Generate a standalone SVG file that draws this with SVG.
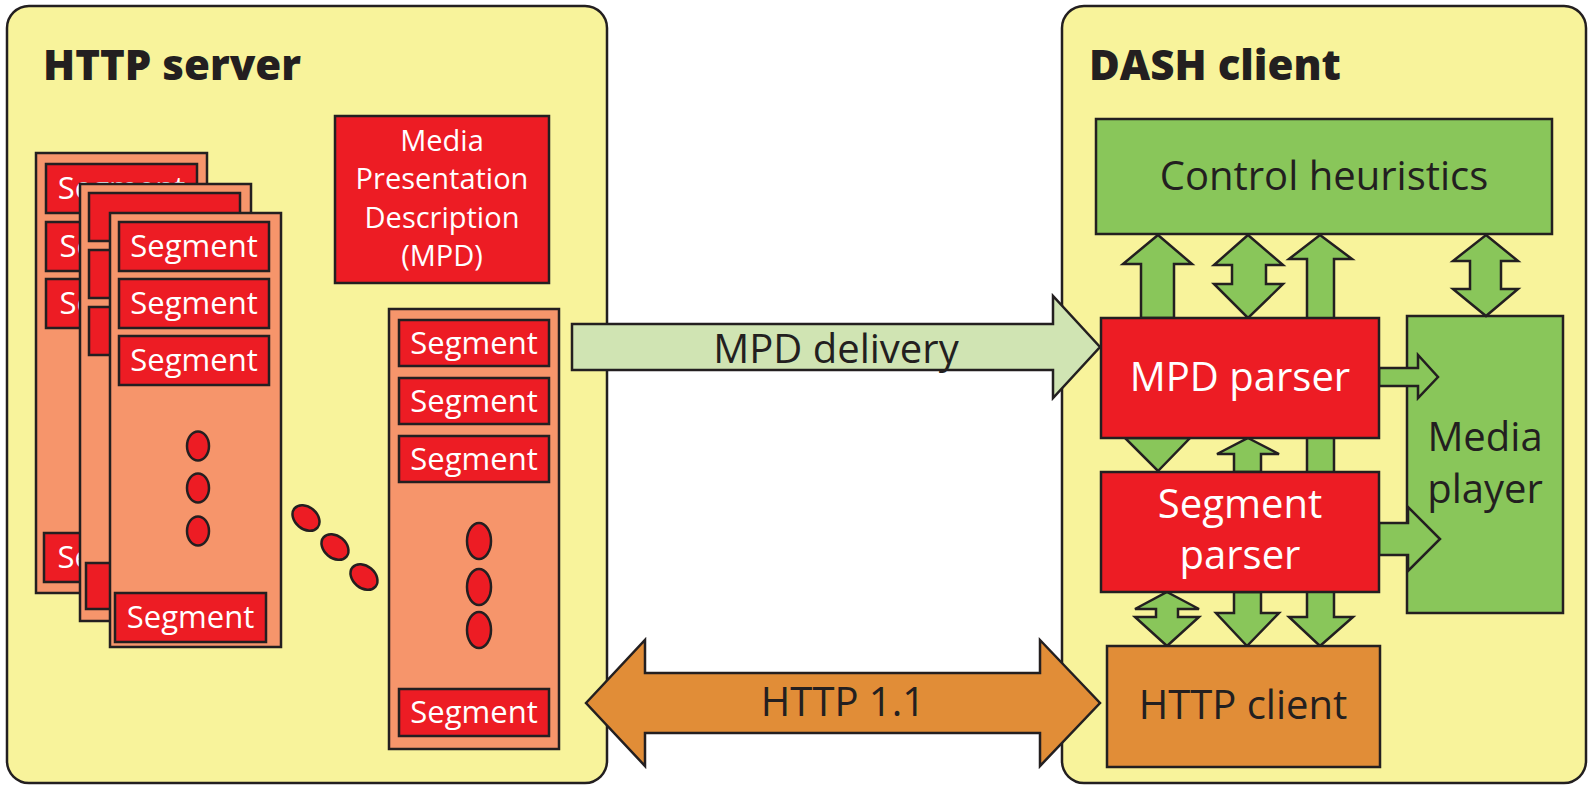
<svg xmlns="http://www.w3.org/2000/svg" width="1594" height="787" viewBox="0 0 1594 787">
<style>
.panel{fill:#f8f39b;stroke:#231f20;stroke-width:2.5}
.stk{fill:#f6956b;stroke:#231f20;stroke-width:2.5}
.seg{fill:#ed1c24;stroke:#231f20;stroke-width:2.5}
.red{fill:#ed1c24;stroke:#231f20;stroke-width:2.5}
.grn{fill:#89c65a;stroke:#231f20;stroke-width:2.5}
.org{fill:#e18d37;stroke:#231f20;stroke-width:2.5}
.lg{fill:#d0e4b3;stroke:#231f20;stroke-width:2.5}
.dot{fill:#ed1c24;stroke:#231f20;stroke-width:2.5}
.title{font-family:"Open Sans","Liberation Sans",sans-serif;font-weight:800;font-size:42px;fill:#231f20}
.st{font-family:"Open Sans","Liberation Sans",sans-serif;font-size:31px;fill:#ffffff;text-anchor:middle}
.sl{font-family:"Open Sans","Liberation Sans",sans-serif;font-size:31px;fill:#ffffff}
.wt{font-family:"Open Sans","Liberation Sans",sans-serif;font-size:40px;fill:#ffffff;text-anchor:middle}
.dt{font-family:"Open Sans","Liberation Sans",sans-serif;font-size:40px;fill:#231f20;text-anchor:middle}
.mt{font-family:"Open Sans","Liberation Sans",sans-serif;font-size:29px;fill:#ffffff;text-anchor:middle}
</style>

<g id="http-server">
  <rect class="panel" x="7" y="6" width="600" height="777" rx="22"/>
  <text class="title" x="43" y="80">HTTP server</text>
</g>
<g id="dash-client">
  <rect class="panel" x="1062" y="6" width="524" height="777" rx="22"/>
  <text class="title" x="1089" y="80">DASH client</text>
</g>

<g id="representation-1">
  <rect class="stk" x="36" y="153" width="171" height="440"/>
  <rect class="seg" x="46" y="164" width="151" height="49"/>
  <text class="st" x="121.5" y="199">Segment</text>
  <rect class="seg" x="46" y="222" width="151" height="49"/>
  <text class="sl" x="59.5" y="257">Se</text>
  <rect class="seg" x="46" y="279" width="151" height="49"/>
  <text class="sl" x="59.5" y="314">Se</text>
  <rect class="seg" x="44" y="533" width="151" height="49"/>
  <text class="sl" x="57.5" y="568">Se</text>
</g>
<g id="representation-2">
  <rect class="stk" x="80" y="184" width="171" height="437"/>
  <rect class="seg" x="89" y="193" width="151" height="48"/>
  <rect class="seg" x="89" y="250" width="151" height="48"/>
  <rect class="seg" x="89" y="307" width="151" height="48"/>
  <rect class="seg" x="86" y="563" width="151" height="46"/>
</g>
<g id="representation-3">
  <rect class="stk" x="110" y="213" width="171" height="434"/>
  <rect class="seg" x="119" y="222" width="150" height="49"/>
  <text class="st" x="194" y="257">Segment</text>
  <rect class="seg" x="119" y="279" width="150" height="49"/>
  <text class="st" x="194" y="314">Segment</text>
  <rect class="seg" x="119" y="336" width="150" height="49"/>
  <text class="st" x="194" y="371">Segment</text>
  <ellipse class="dot" cx="198" cy="446" rx="11" ry="14.5"/>
  <ellipse class="dot" cx="198" cy="488" rx="11" ry="14.5"/>
  <ellipse class="dot" cx="198" cy="531" rx="11" ry="14.5"/>
  <rect class="seg" x="115" y="593" width="151" height="49"/>
  <text class="st" x="190.5" y="628">Segment</text>
</g>
<g id="more-representations">
  <ellipse class="dot" cx="306" cy="518" rx="15" ry="11" transform="rotate(40 306 518)"/>
  <ellipse class="dot" cx="335" cy="547" rx="15" ry="11" transform="rotate(40 335 547)"/>
  <ellipse class="dot" cx="364" cy="577" rx="15" ry="11" transform="rotate(40 364 577)"/>
</g>
<g id="representation-n">
  <rect class="stk" x="389" y="309" width="170" height="440"/>
  <rect class="seg" x="399" y="320" width="150" height="46"/>
  <text class="st" x="474" y="354">Segment</text>
  <rect class="seg" x="399" y="378" width="150" height="46"/>
  <text class="st" x="474" y="412">Segment</text>
  <rect class="seg" x="399" y="436" width="150" height="46"/>
  <text class="st" x="474" y="470">Segment</text>
  <ellipse class="dot" cx="479" cy="541" rx="12" ry="18"/>
  <ellipse class="dot" cx="479" cy="587" rx="12" ry="18"/>
  <ellipse class="dot" cx="479" cy="630" rx="12" ry="18"/>
  <rect class="seg" x="399" y="689" width="150" height="47"/>
  <text class="st" x="474" y="723">Segment</text>
</g>
<g id="mpd">
  <rect class="red" x="335" y="116" width="214" height="167"/>
  <text class="mt" x="442" y="151">Media</text>
  <text class="mt" x="442" y="189">Presentation</text>
  <text class="mt" x="442" y="228">Description</text>
  <text class="mt" x="442" y="266">(MPD)</text>
</g>

<g id="media-player">
  <rect class="grn" x="1407" y="316" width="156" height="297"/>
  <text class="dt" x="1485" y="451">Media</text>
  <text class="dt" x="1485" y="503">player</text>
</g>

<g id="connectors">
  <polygon class="lg" points="572,324 1053,324 1053,296 1100,347 1053,398 1053,370 572,370"/>
  <text class="dt" x="836" y="363">MPD delivery</text>
  <polygon class="org" points="586,703 645,640 645,673 1040,673 1040,640 1100,703 1040,766 1040,733 645,733 645,766"/>
  <text class="dt" x="843" y="716">HTTP 1.1</text>
  <polygon class="grn" points="1320,235 1352,259 1334,259 1334,617 1353,617 1320,646 1289,617 1307,617 1307,259 1289,259"/>
  <polygon class="grn" points="1158,235 1192,264 1174,264 1174,318 1141,318 1141,264 1123,264"/>
  <polygon class="grn" points="1248,235 1283,265 1266,265 1266,284 1283,284 1248,318 1214,284 1232,284 1232,265 1214,265"/>
  <polygon class="grn" points="1486,235 1518,261 1501,261 1501,289 1518,289 1486,316 1453,289 1470,289 1470,261 1453,261"/>
  <polygon class="grn" points="1125,438 1190,438 1158,471"/>
  <polygon class="grn" points="1248,438 1279,454 1261,454 1261,472 1234,472 1234,454 1217,454"/>
  <polygon class="grn" points="1379,368 1418,368 1418,355 1438,377 1418,398 1418,386 1379,386"/>
  <polygon class="grn" points="1379,523 1408,523 1408,507 1440,539 1408,571 1408,555 1379,555"/>
  <polygon class="grn" points="1167,592 1199,609 1178,609 1178,617 1199,617 1167,646 1135,617 1156,617 1156,609 1135,609"/>
  <polygon class="grn" points="1234,592 1261,592 1261,613 1279,613 1247,646 1216,613 1234,613"/>
</g>

<g id="control-heuristics">
  <rect class="grn" x="1096" y="119" width="456" height="115"/>
  <text class="dt" x="1324" y="190">Control heuristics</text>
</g>
<g id="mpd-parser">
  <rect class="red" x="1101" y="318" width="278" height="120"/>
  <text class="wt" x="1240" y="391">MPD parser</text>
</g>
<g id="segment-parser">
  <rect class="red" x="1101" y="472" width="278" height="120"/>
  <text class="wt" x="1240" y="518">Segment</text>
  <text class="wt" x="1240" y="569">parser</text>
</g>
<g id="http-client">
  <rect class="org" x="1107" y="646" width="273" height="121"/>
  <text class="dt" x="1243" y="719">HTTP client</text>
</g>
</svg>
